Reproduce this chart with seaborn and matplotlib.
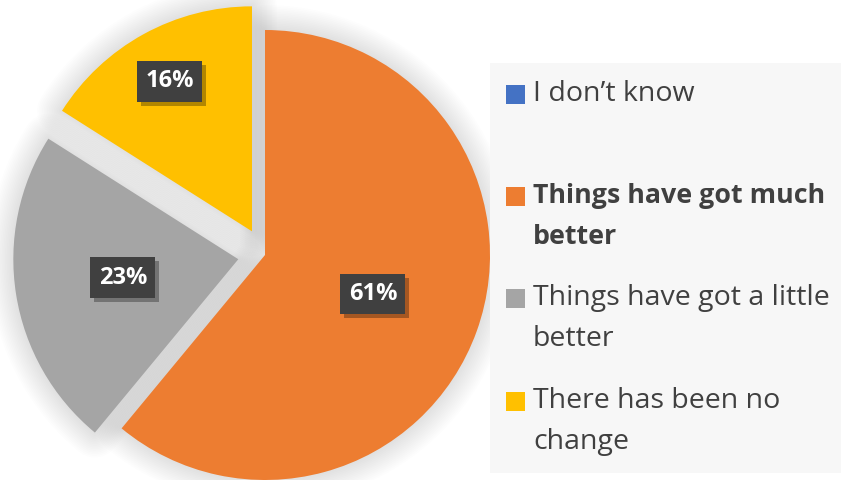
import matplotlib
matplotlib.use("Agg")
import matplotlib.pyplot as plt
import matplotlib.patches as mpatches
import matplotlib.patheffects as pe
import seaborn as sns
import numpy as np

categories = ["I don\u2019t know", "Things have got much better",
              "Things have got a little better", "There has been no change"]
legend_lines = [["I don\u2019t know"], ["Things have got much", "better"],
                ["Things have got a little", "better"], ["There has been no", "change"]]
values = [0, 61, 23, 16]
colors = ["#4472C4", "#ED7D31", "#A5A5A5", "#FFC000"]

sns.set_theme(style="white")
plt.rcParams['font.family'] = ['Open Sans', 'DejaVu Sans']

W, H = 841, 480
fig = plt.figure(figsize=(W / 100, H / 100), dpi=100)
fig.patch.set_facecolor("white")

# legend background
fig.patches.append(mpatches.Rectangle((490 / W, 1 - 473 / H), (W - 490) / W, (473 - 63) / H,
                                      transform=fig.transFigure, facecolor="#f7f7f7",
                                      edgecolor="none", zorder=0))

ax = fig.add_axes([0, 0, 1, 1])
ax.patch.set_alpha(0)
R = 225
explode = [0, 0, 27, 27]
wedges, _ = ax.pie(values, colors=colors, startangle=90, counterclock=False,
                   radius=R, explode=explode, center=(0, 0),
                   wedgeprops=dict(linewidth=0, zorder=3))
ax.set_xlim(-265, W - 265)
ax.set_ylim(-(H - 255), 255)
ax.set_aspect('equal')
ax.set_axis_off()

# soft glow shadow around the slices
for w, v in zip(wedges, values):
    if v == 0:
        continue
    for k in range(1, 16):
        g = mpatches.Wedge(w.center, w.r, w.theta1, w.theta2, facecolor="none",
                           edgecolor="black", linewidth=2.4 * k, alpha=0.008,
                           joinstyle="round", zorder=1)
        ax.add_patch(g)

label_dist = [0.5, 0.51, 0.52, 0.76]
for w, v, d in zip(wedges, values, label_dist):
    if v == 0:
        continue
    th = np.deg2rad((w.theta1 + w.theta2) / 2)
    cx, cy = w.center
    x, y = cx + d * R * np.cos(th), cy + d * R * np.sin(th)
    t = ax.text(x, y, f"{v}%", ha="center", va="center", color="white",
                fontsize=17, fontweight="bold", zorder=5,
                bbox=dict(boxstyle="square,pad=0.35", facecolor="#404040", edgecolor="none"))
    t.get_bbox_patch().set_path_effects(
        [pe.SimplePatchShadow(offset=(2.5, -3), shadow_rgbFace="black", alpha=0.3), pe.Normal()])

# legend
sq_y = [94, 196, 298, 401]
for i, (lines, c) in enumerate(zip(legend_lines, colors)):
    y = sq_y[i]
    fig.patches.append(mpatches.Rectangle((506 / W, 1 - (y + 9.5) / H), 19 / W, 19 / H,
                                          transform=fig.transFigure, facecolor=c,
                                          edgecolor="none", zorder=3))
    for j, ln in enumerate(lines):
        fig.text(533 / W, 1 - (y + 41 * j) / H, ln, ha="left", va="center",
                 fontsize=19.3 if i == 1 else 20.5, color="#404040",
                 fontweight="bold" if i == 1 else "normal")

fig.savefig("out.png", dpi=100)
